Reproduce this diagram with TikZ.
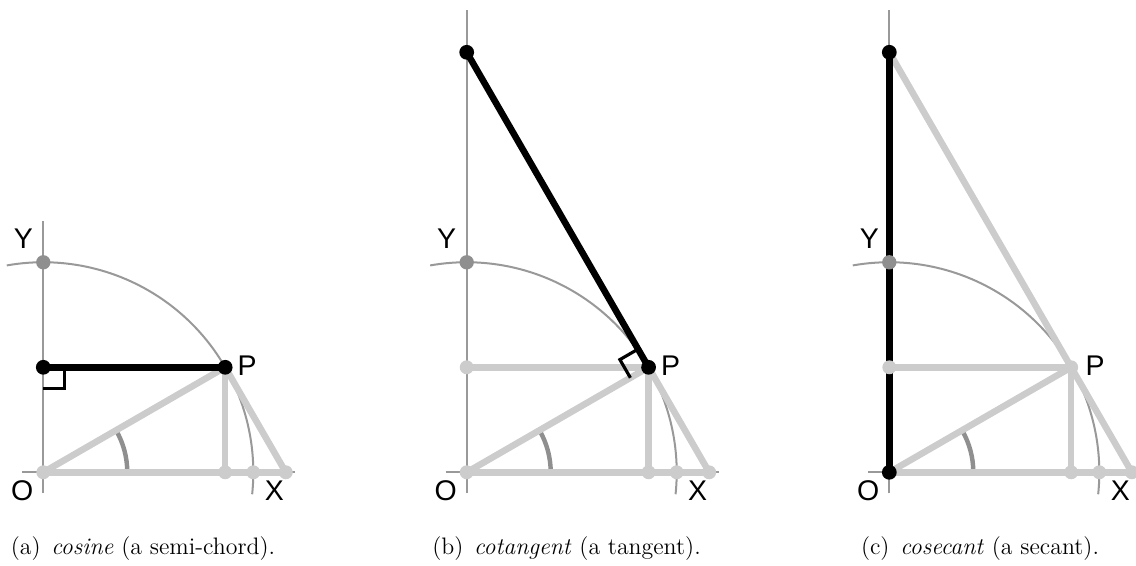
\documentclass[tikz,border=0pt]{standalone}
\usepackage{fontspec}
\newfontfamily\lblfont{Liberation Sans}
\usetikzlibrary{calc}
\definecolor{lite}{HTML}{CCCCCC}
\definecolor{midg}{HTML}{8F8F8F}
\definecolor{axisc}{HTML}{999999}
\tikzset{
  axisline/.style={draw=axisc, line width=0.95pt},
  circline/.style={draw=axisc, line width=0.95pt},
  angarc/.style={draw=midg, line width=2.1pt},
  graybar/.style={draw=lite, line width=3.1pt},
  blackbar/.style={draw=black, line width=3.1pt},
  rmark/.style={draw=black, line width=1.5pt},
  litedot/.style={circle, fill=lite, inner sep=0pt, minimum size=6.6pt},
  middot/.style={circle, fill=midg, inner sep=0pt, minimum size=6.8pt},
  blackdot/.style={circle, fill=black, inner sep=0pt, minimum size=7pt},
  lbl/.style={font=\lblfont\fontsize{13.5}{15}\selectfont, inner sep=0pt},
  captext/.style={font=\fontsize{11.3}{13}\selectfont, inner sep=0pt},
}
% #1 suffix, #2 x of O, #3 top of y axis above O
\newcommand{\basepanel}[3]{%
  \coordinate (O#1) at (#2,92.7);
  \coordinate (P#1) at ($(O#1)+(181.87,105)$);
  \coordinate (S#1) at ($(O#1)+(0,105)$);
  \coordinate (C#1) at ($(O#1)+(181.87,0)$);
  \coordinate (X#1) at ($(O#1)+(210,0)$);
  \coordinate (T#1) at ($(O#1)+(242.49,0)$);
  \coordinate (Y#1) at ($(O#1)+(0,210)$);
  \coordinate (K#1) at ($(O#1)+(0,420)$);
  \coordinate (yb#1) at ($(O#1)+(0,-21)$);
  \coordinate (yt#1) at ($(O#1)+(0,#3)$);
  \coordinate (xl#1) at ($(O#1)+(-21,0)$);
  \coordinate (xr#1) at ($(O#1)+(252,0)$);
  \coordinate (cs#1) at ($(O#1)+(-6:210)$);
  \coordinate (as#1) at ($(O#1)+(84,0)$);
  \draw[axisline] (yb#1) -- (yt#1);
  \draw[axisline] (xl#1) -- (xr#1);
  \draw[circline] (cs#1) arc[start angle=-6, end angle=100, radius=3.5cm];
  \draw[angarc] (as#1) arc[start angle=0, end angle=30, radius=1.4cm];
  \draw[graybar] (O#1) -- (P#1);
  \draw[graybar] (P#1) -- (C#1);
  \draw[graybar] (O#1) -- (T#1);
}
\newcommand{\panellabels}[2]{%
  \node[lbl] (lY#1) at ($(O#1)+(-20,234)$) {Y};
  \node[lbl] (lO#1) at ($(O#1)+(-21,-18)$) {O};
  \node[lbl] (lX#1) at ($(O#1)+(231,-18)$) {X};
  \node[lbl] (lP#1) at ($(P#1)+(#2,2)$) {P};
}
\begin{document}
\begin{tikzpicture}[x=0.0166667cm, y=0.0166667cm]
\useasboundingbox (0,0) rectangle (1136,565);

% ---------- panel (a) ----------
\basepanel{a}{43.3}{251}
\draw[graybar] (Pa) -- (Ta);
\draw[blackbar] (Sa) -- (Pa);
\draw[rmark] ($(Sa)+(0,-21)$) -- ($(Sa)+(21,-21)$) -- ($(Sa)+(21,0)$);
\node[litedot] (dOa) at (Oa) {};
\node[litedot] (dCa) at (Ca) {};
\node[litedot] (dXa) at (Xa) {};
\node[litedot] (dTa) at (Ta) {};
\node[middot] (dYa) at (Ya) {};
\node[blackdot] (dSa) at (Sa) {};
\node[blackdot] (dPa) at (Pa) {};
\panellabels{a}{22}

% ---------- panel (b) ----------
\basepanel{b}{466.7}{462}
\draw[graybar] (Pb) -- (Tb);
\draw[graybar] (Sb) -- (Pb);
\draw[blackbar] (Pb) -- (Kb);
\draw[rmark] ($(Pb)+(120:21)$) -- ($(Pb)+(120:21)+(210:21)$) -- ($(Pb)+(210:21)$);
\node[litedot] (dOb) at (Ob) {};
\node[litedot] (dCb) at (Cb) {};
\node[litedot] (dXb) at (Xb) {};
\node[litedot] (dTb) at (Tb) {};
\node[litedot] (dSb) at (Sb) {};
\node[middot] (dYb) at (Yb) {};
\node[blackdot] (dPb) at (Pb) {};
\node[blackdot] (dKb) at (Kb) {};
\panellabels{b}{22}

% ---------- panel (c) ----------
\basepanel{c}{889.3}{462}
\draw[graybar] (Kc) -- (Tc);
\draw[graybar] (Sc) -- (Pc);
\draw[blackbar] (Oc) -- (Kc);
\node[blackdot] (dOc) at (Oc) {};
\node[blackdot] (dKc) at (Kc) {};
\node[litedot] (dCc) at (Cc) {};
\node[litedot] (dXc) at (Xc) {};
\node[litedot] (dTc) at (Tc) {};
\node[litedot] (dSc) at (Sc) {};
\node[litedot] (dPc) at (Pc) {};
\node[middot] (dYc) at (Yc) {};
\panellabels{c}{24}

% ---------- captions ----------
\node[captext] (capa) at (143,16) {(a)\hspace{0.45em}\textit{cosine} (a semi-chord).};
\node[captext] (capb) at (566.5,16) {(b)\hspace{0.45em}\textit{cotangent} (a tangent).};
\node[captext] (capc) at (980,16) {(c)\hspace{0.45em}\textit{cosecant} (a secant).};
\end{tikzpicture}
\end{document}
